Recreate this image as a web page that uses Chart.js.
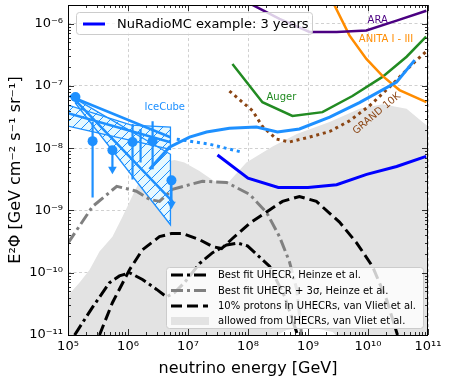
<!DOCTYPE html>
<html>
<head>
<meta charset="utf-8">
<script src="https://cdn.jsdelivr.net/npm/chart.js@4.4.1/dist/chart.umd.min.js"></script>
<style>
  html, body { margin: 0; padding: 0; background: #fff; }
</style>
</head>
<body>
<canvas id="c" width="449" height="382"></canvas>
<script>
// ---- data (energy in GeV, flux E^2 Phi in GeV cm^-2 s^-1 sr^-1) ----
const nuradioE = [3.1e7, 1.0e8, 3.2e8, 1.0e9, 3.0e9, 9.5e9, 3.0e10, 9.3e10];
const nuradioF = [7.8e-9, 3.3e-9, 2.35e-9, 2.35e-9, 2.6e-9, 3.8e-9, 5.1e-9, 7.4e-9];

const gen2E = [2.29e6, 4.9e6, 1.06e7, 2.04e7, 4.9e7, 1.38e8, 3.1e8, 7.2e8, 2.3e9, 7.2e9, 3.0e10, 6.0e10];
const gen2F = [4.6e-9, 1.04e-8, 1.51e-8, 1.82e-8, 2.09e-8, 2.19e-8, 1.82e-8, 2.04e-8, 3.16e-8, 5.4e-8, 1.16e-7, 2.6e-7];
const gen2DotE = [6.5e6, 2.3e7, 8.1e7];
const gen2DotF = [1.4e-8, 1.16e-8, 8.6e-9];

const augerE = [5.5e7, 1.74e8, 5.5e8, 1.74e9, 5.5e9, 1.74e10, 4.4e10, 9.3e10];
const augerF = [2.26e-7, 5.5e-8, 3.3e-8, 3.8e-8, 6.9e-8, 1.4e-7, 2.95e-7, 6.2e-7];

const anitaE = [2.45e9, 4.9e9, 9.4e9, 1.74e10, 3.35e10, 9.4e10];
const anitaF = [2.5e-6, 6.5e-7, 2.72e-7, 1.45e-7, 8.6e-8, 5.5e-8];

const araE = [8.7e7, 3.35e8, 1.06e9, 3.0e9, 9.4e9, 3.0e10, 9.4e10];
const araF = [2.34e-6, 1.2e-6, 7.4e-7, 7.4e-7, 7.8e-7, 1.12e-6, 1.62e-6];

const grandE = [4.9e7, 1.19e8, 1.74e8, 3.0e8, 4.9e8, 1.06e9, 2.3e9, 4.9e9, 1.06e10, 2.57e10, 5.5e10, 9.4e10];
const grandF = [8.3e-8, 4.0e-8, 2.24e-8, 1.4e-8, 1.26e-8, 1.51e-8, 1.86e-8, 2.75e-8, 4.8e-8, 1.07e-7, 2.26e-7, 3.6e-7];

// allowed band from UHECRs (van Vliet et al.)
const bandUpE = [1e5, 1.55e5, 2.29e5, 3.35e5, 5.5e5, 8.1e5, 1.15e6, 1.55e6, 2.29e6, 3.76e6, 5.96e6, 8.7e6,
                 1.55e7, 2.75e7, 4.57e7, 9.4e7, 2.57e8, 6.5e8, 2.29e9, 7.2e9, 1.74e10, 4.4e10, 8.1e10, 1e11];
const bandUpF = [4.3e-11, 6.9e-11, 1.12e-10, 2.19e-10, 3.8e-10, 7.9e-10, 1.62e-9, 2.95e-9, 4.6e-9, 5.9e-9, 6.5e-9, 5.9e-9,
                 4.3e-9, 2.95e-9, 2.75e-9, 5.9e-9, 1.07e-8, 1.7e-8, 2.63e-8, 4.3e-8, 5.1e-8, 4.3e-8, 2.63e-8, 2.26e-8];
const bandLoE = [1e5, 1.55e8, 4.4e8, 1.07e9, 2.57e9, 4.1e9, 1e11];
const bandLoF = [1e-12, 6.9e-12, 1.2e-11, 1.35e-11, 1.12e-11, 6.9e-12, 1e-12];

const vlietE = [3.35e5, 5.5e5, 1.06e6, 1.74e6, 3.35e6, 5.3e6, 8.1e6, 1.55e7, 2.57e7, 3.63e7, 5.5e7, 1.06e8,
                2.04e8, 3.76e8, 7.2e8, 1.38e9, 3.35e9, 6.5e9, 1.19e10, 2.04e10, 3.1e10];
const vlietF = [1e-11, 3.3e-11, 1.12e-10, 2.34e-10, 3.8e-10, 4.27e-10, 4.27e-10, 3.4e-10, 2.63e-10, 2.45e-10, 3.55e-10, 6.2e-10,
                9.5e-10, 1.4e-9, 1.68e-9, 1.4e-9, 6.5e-10, 3.0e-10, 1.26e-10, 3.7e-11, 1e-11];

const heinzeE = [1.29e5, 2.57e5, 4.9e5, 7.2e5, 1.06e6, 1.74e6, 3.0e6, 4.4e6, 5.96e6, 8.7e6, 1.55e7, 2.57e7,
                 4.4e7, 6.7e7, 9.8e7, 1.45e8, 2.3e8, 4.1e8, 6.7e8];
const heinzeF = [1e-11, 2.8e-11, 6.9e-11, 8.9e-11, 1.0e-10, 7.8e-11, 5.4e-11, 4.1e-11, 4.8e-11, 6.9e-11, 1.4e-10, 2.1e-10,
                 2.8e-10, 3.0e-10, 2.7e-10, 1.9e-10, 1.26e-10, 4.1e-11, 1e-11];

const heinze3sE = [1e5, 2.57e5, 6.5e5, 1.38e6, 2.29e6, 3.35e6, 5.5e6, 1.74e7, 4.4e7, 1.06e8, 2.04e8, 3.35e8, 4.9e8, 6.5e8, 7.8e8];
const heinze3sF = [3.0e-10, 1.16e-9, 2.45e-9, 2.04e-9, 1.51e-9, 1.4e-9, 2.19e-9, 2.95e-9, 2.82e-9, 1.82e-9, 9.3e-10, 3.8e-10, 1.51e-10, 5.4e-11, 1.0e-11];

// IceCube measurements
const dotE = [1.33e5, 2.57e5, 5.5e5, 1.19e6, 2.57e6, 5.3e6];
const dotF = [6.65e-8, 1.3e-8, 9.3e-9, 1.26e-8, 1.3e-8, 3.05e-9];
const barE = [2.57e5, 1.19e6, 1.62e6, 2.57e6];
const barHi = [2.63e-8, 2.45e-8, 2.04e-8, 2.72e-8];
const barLo = [1.62e-9, 3.16e-9, 5.9e-9, 4.6e-9];
const ulE = [5.5e5, 5.3e6];
const ulF = [9.3e-9, 3.05e-9];
const ulTip = [4.6e-9, 1.26e-9];
const fitE0 = [1.06e5, 1e5, 1.14e5];
const fitF0 = [6.9e-8, 3.67e-8, 6.9e-8];
const fitE1 = [5.1e6, 5.1e6, 5.7e6];
const fitF1 = [1.5e-8, 1.25e-8, 1.35e-9];
// hatched regions: upper and lower edges
const muTopE = [1e5, 1.14e6, 5.1e6];
const muTopF = [4.94e-8, 2.35e-8, 2.18e-8];
const muBotE = [1e5, 5.1e6];
const muBotF = [2.26e-8, 9.6e-9];
const heseTopE = [1.33e5, 5.1e6];
const heseTopF = [6.2e-8, 8.0e-9];
const heseBotE = [1.33e5, 5.1e6];
const heseBotF = [5.3e-8, 5.9e-10];

const xTicks = [1e5, 1e6, 1e7, 1e8, 1e9, 1e10, 1e11];
const yTicks = [1e-11, 1e-10, 1e-9, 1e-8, 1e-7, 1e-6];

const topLegend = ["NuRadioMC example: 3 years"];
const botLegend = ["Best fit UHECR, Heinze et al.", "Best fit UHECR + 3\u03c3, Heinze et al.",
                   "10% protons in UHECRs, van Vliet et al.", "allowed from UHECRs, van Vliet et al."];

// ---- styling ----
const PAL = {
  light: "#1E90FF", blue: "#0000FF", auger: "#228B22", anita: "#FF8C00", ara: "#4B0082",
  grand: "#8B4513", gray: "#808080", black: "#000000", band: "#e3e3e3", hatchBg: "#e6f9ff",
};
const DASH = [11, 5];
const DASHDOT = [12, 4, 3, 4];
const DOT = [3, 3.8];

Chart.defaults.font.family = "'DejaVu Sans', sans-serif";
Chart.defaults.color = "#000";

const SUP = { "-": "\u207b", "0": "\u2070", "1": "\u00b9", "2": "\u00b2", "3": "\u00b3", "4": "\u2074",
              "5": "\u2075", "6": "\u2076", "7": "\u2077", "8": "\u2078", "9": "\u2079" };
const powLabel = (v) => "10" + String(Math.round(Math.log10(v))).split("").map((c) => SUP[c]).join("");

const pts = (E, F) => E.map((e, i) => ({ x: e, y: F[i] }));
function segs(E0, F0, E1, F1) {
  const out = [];
  E0.forEach((e, i) => { out.push({ x: e, y: F0[i] }, { x: E1[i], y: F1[i] }, { x: E1[i], y: null }); });
  return out;
}
function outline(tE, tF, bE, bF) {
  const p = pts(tE, tF).concat(pts(bE, bF).reverse());
  p.push(p[0]);
  return p;
}
function hatch() {
  const s = 10;
  const c = document.createElement("canvas");
  c.width = s; c.height = s;
  const g = c.getContext("2d");
  g.fillStyle = PAL.hatchBg;
  g.fillRect(0, 0, s, s);
  g.strokeStyle = PAL.light;
  g.lineWidth = 1;
  g.beginPath();
  g.moveTo(-1, s + 1); g.lineTo(s + 1, -1);
  g.moveTo(-1, 1); g.lineTo(1, -1);
  g.moveTo(s - 1, s + 1); g.lineTo(s + 1, s - 1);
  g.stroke();
  return g.createPattern(c, "repeat");
}
const HATCH = hatch();

function curve(data, color, width, dash, order) {
  return { data, borderColor: color, borderWidth: width, borderDash: dash || [], fill: false, pointRadius: 0, order };
}

const datasets = [
  // allowed band (filled to next dataset)
  { data: pts(bandUpE, bandUpF), borderWidth: 0, backgroundColor: PAL.band, fill: "+1", pointRadius: 0, order: 100 },
  { data: pts(bandLoE, bandLoF), borderWidth: 0, fill: false, pointRadius: 0, order: 100 },
  // hatched IceCube regions
  { data: pts(muTopE, muTopF), borderWidth: 0, backgroundColor: HATCH, fill: "+1", pointRadius: 0, order: 90 },
  { data: pts(muBotE, muBotF), borderWidth: 0, fill: false, pointRadius: 0, order: 90 },
  { data: pts(heseTopE, heseTopF), borderWidth: 0, backgroundColor: HATCH, fill: "+1", pointRadius: 0, order: 89 },
  { data: pts(heseBotE, heseBotF), borderWidth: 0, fill: false, pointRadius: 0, order: 89 },
  curve(outline(muTopE, muTopF, muBotE, muBotF), PAL.light, 1.3, [], 88),
  curve(outline(heseTopE, heseTopF, heseBotE, heseBotF), PAL.light, 1.3, [], 88),
  // UHECR model curves
  curve(pts(heinze3sE, heinze3sF), PAL.gray, 3, DASHDOT, 80),
  curve(pts(heinzeE, heinzeF), PAL.black, 3, DASHDOT, 79),
  curve(pts(vlietE, vlietF), PAL.black, 3, DASH, 78),
  // experiments
  curve(pts(araE, araF), PAL.ara, 2.5, [], 60),
  curve(pts(anitaE, anitaF), PAL.anita, 2.5, [], 60),
  curve(pts(augerE, augerF), PAL.auger, 2.5, [], 60),
  curve(pts(grandE, grandF), PAL.grand, 3, DOT, 59),
  curve(pts(gen2E, gen2F), PAL.light, 3, [], 55),
  curve(pts(gen2DotE, gen2DotF), PAL.light, 3, DOT, 55),
  curve(pts(nuradioE, nuradioF), PAL.blue, 3, [], 50),
  // IceCube fits, error bars, upper limits
  curve(segs(fitE0, fitF0, fitE1, fitF1), PAL.light, 2.5, [], 40),
  curve(segs(barE, barHi, barE, barLo), PAL.light, 2.2, [], 35),
  curve(segs(ulE, ulF, ulE, ulTip), PAL.light, 2.2, [], 35),
  { data: pts(ulE, ulTip), showLine: false, pointStyle: "triangle", rotation: 180, pointRadius: 5,
    pointBackgroundColor: PAL.light, pointBorderWidth: 0, order: 30 },
  { data: pts(dotE, dotF), showLine: false, pointStyle: "circle", pointRadius: 5,
    pointBackgroundColor: PAL.light, pointBorderWidth: 0, order: 20 },
];

// text labels placed next to curves (data coordinates)
const curveLabels = [
  { text: "IceCube", E: 4.1e6, F: 4.6e-8, color: PAL.light, rot: 0 },
  { text: "Auger", E: 3.6e8, F: 6.6e-8, color: PAL.auger, rot: 0 },
  { text: "ARA", E: 1.45e10, F: 1.15e-6, color: PAL.ara, rot: 0 },
  { text: "ANITA I - III", E: 2.0e10, F: 5.5e-7, color: PAL.anita, rot: 0 },
  { text: "GRAND 10K", E: 1.4e10, F: 3.6e-8, color: PAL.grand, rot: -40 },
];

function legendBox(ctx, x, y, w, h) {
  const r = 3;
  ctx.beginPath();
  ctx.moveTo(x + r, y);
  ctx.arcTo(x + w, y, x + w, y + h, r);
  ctx.arcTo(x + w, y + h, x, y + h, r);
  ctx.arcTo(x, y + h, x, y, r);
  ctx.arcTo(x, y, x + w, y, r);
  ctx.closePath();
  ctx.fillStyle = "rgba(255,255,255,0.8)";
  ctx.fill();
  ctx.strokeStyle = "#cccccc";
  ctx.lineWidth = 1;
  ctx.stroke();
}
function sample(ctx, x0, x1, y, color, dash) {
  ctx.beginPath();
  ctx.setLineDash(dash);
  ctx.strokeStyle = color;
  ctx.lineWidth = 3;
  ctx.moveTo(x0, y);
  ctx.lineTo(x1, y);
  ctx.stroke();
  ctx.setLineDash([]);
}

const decor = {
  id: "decor",
  afterDatasetsDraw(chart) {
    const { ctx, scales: { x, y } } = chart;
    ctx.save();
    ctx.font = "10px 'DejaVu Sans'";
    ctx.textAlign = "center";
    ctx.textBaseline = "middle";
    curveLabels.forEach((l) => {
      ctx.save();
      ctx.translate(x.getPixelForValue(l.E), y.getPixelForValue(l.F));
      ctx.rotate((l.rot * Math.PI) / 180);
      ctx.fillStyle = l.color;
      ctx.fillText(l.text, 0, 0);
      ctx.restore();
    });

    // upper legend
    legendBox(ctx, 76.5, 12.5, 236, 22);
    sample(ctx, 83, 105, 24, PAL.blue, []);
    ctx.textAlign = "left";
    ctx.fillStyle = "#000";
    ctx.font = "13px 'DejaVu Sans'";
    ctx.fillText(topLegend[0], 117, 24.5);

    // lower legend
    legendBox(ctx, 166.5, 267.5, 257, 61);
    const rows = [275, 290.5, 306, 321];
    sample(ctx, 171, 208, rows[0], PAL.black, DASHDOT);
    sample(ctx, 171, 208, rows[1], PAL.gray, DASHDOT);
    sample(ctx, 171, 208, rows[2], PAL.black, DASH);
    ctx.fillStyle = PAL.band;
    ctx.fillRect(171, rows[3] - 4, 38, 8);
    ctx.fillStyle = "#000";
    ctx.font = "10px 'DejaVu Sans'";
    botLegend.forEach((t, i) => ctx.fillText(t, 218, rows[i] + 0.5));
    ctx.restore();
  },
  afterDraw(chart) {
    const { ctx, chartArea: a, scales: { x, y } } = chart;
    ctx.save();
    ctx.strokeStyle = "#000";
    ctx.lineWidth = 0.8;
    ctx.beginPath();
    for (let n = 5; n <= 11; n++) {
      for (let m = 1; m <= 9; m++) {
        const v = m * Math.pow(10, n);
        if (v > x.max * 1.0001) break;
        const px = Math.round(x.getPixelForValue(v)) + 0.5;
        const len = m === 1 ? 6 : 3;
        ctx.moveTo(px, a.bottom); ctx.lineTo(px, a.bottom - len);
        ctx.moveTo(px, a.top); ctx.lineTo(px, a.top + len);
      }
    }
    for (let n = -11; n <= -6; n++) {
      for (let m = 1; m <= 9; m++) {
        const v = m * Math.pow(10, n);
        if (v > y.max * 1.0001) break;
        const py = Math.round(y.getPixelForValue(v)) + 0.5;
        const len = m === 1 ? 6 : 3;
        ctx.moveTo(a.left, py); ctx.lineTo(a.left + len, py);
        ctx.moveTo(a.right, py); ctx.lineTo(a.right - len, py);
      }
    }
    ctx.stroke();
    ctx.lineWidth = 1;
    ctx.strokeRect(a.left + 0.5, a.top + 0.5, a.right - a.left - 1, a.bottom - a.top);
    ctx.restore();
  },
};

new Chart(document.getElementById("c"), {
  type: "line",
  data: { datasets },
  plugins: [decor],
  options: {
    responsive: false,
    animation: false,
    events: [],
    layout: { padding: { left: 0, right: 21, top: 5, bottom: 0 } },
    elements: { line: { tension: 0 }, point: { radius: 0 } },
    plugins: { legend: { display: false }, tooltip: { enabled: false } },
    scales: {
      x: {
        type: "logarithmic",
        min: 1e5,
        max: 1e11,
        bounds: "data",
        afterBuildTicks: (s) => { s.ticks = xTicks.map((v) => ({ value: v, major: true })); },
        afterFit: (s) => { s.height = 47; s.paddingLeft = 0; s.paddingRight = 0; },
        ticks: { callback: (v) => powLabel(v), font: { size: 13 }, padding: 4, maxRotation: 0, autoSkip: false, color: "#000" },
        grid: { color: "#c4c4c4", lineWidth: 0.8, drawTicks: false },
        border: { display: false, dash: [3, 2.5] },
        title: { display: true, text: "neutrino energy [GeV]", font: { size: 16 }, color: "#000", padding: { top: 2, bottom: 4 } },
      },
      y: {
        type: "logarithmic",
        min: 1e-11,
        max: 2e-6,
        bounds: "data",
        afterBuildTicks: (s) => { s.ticks = yTicks.map((v) => ({ value: v, major: true })); },
        afterFit: (s) => { s.width = 68; s.paddingTop = 0; s.paddingBottom = 0; },
        ticks: { callback: (v) => powLabel(v), font: { size: 13 }, padding: 5, autoSkip: false, color: "#000" },
        grid: { color: "#c4c4c4", lineWidth: 0.8, drawTicks: false },
        border: { display: false, dash: [3, 2.5] },
        title: { display: true, text: "E\u00b2\u03a6 [GeV cm\u207b\u00b2 s\u207b\u00b9 sr\u207b\u00b9]", font: { size: 16 }, color: "#000", padding: { top: 6, bottom: 0 } },
      },
    },
  },
});
</script>
</body>
</html>
